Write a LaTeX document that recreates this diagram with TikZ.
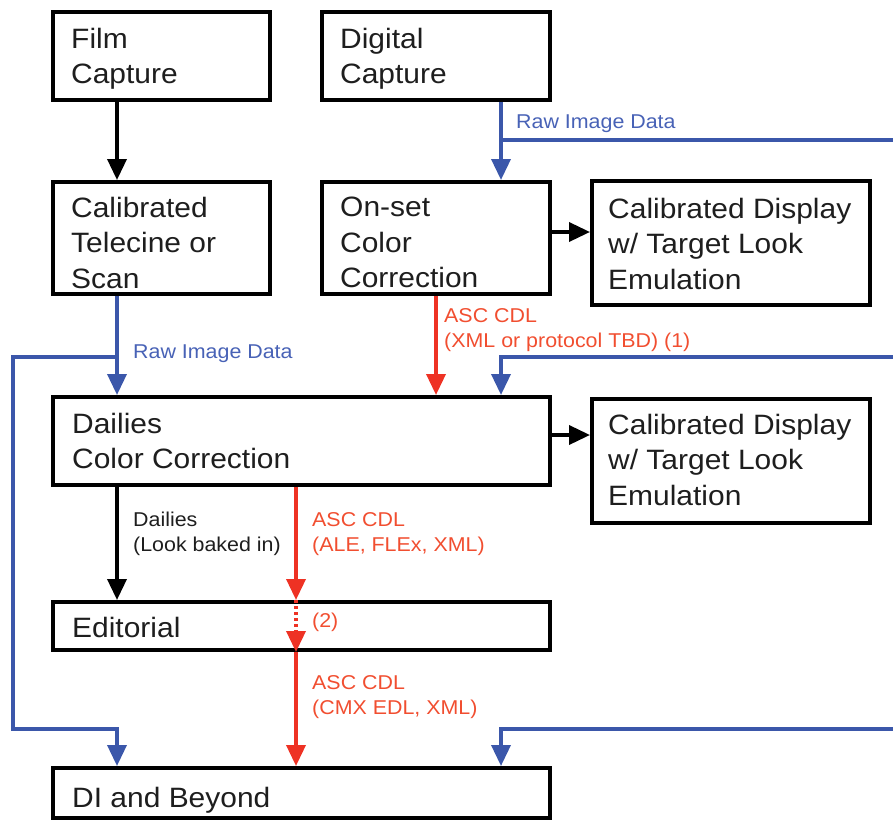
\documentclass[tikz,border=0pt]{standalone}
\usepackage{fontspec}
\setmainfont{Liberation Sans}[FakeStretch=1.07]
\usetikzlibrary{arrows.meta}
\definecolor{rawblue}{RGB}{59,87,170}
\definecolor{cdlred}{RGB}{238,50,36}
\definecolor{rawtxt}{RGB}{72,98,182}
\definecolor{cdltxt}{RGB}{241,78,48}
\definecolor{ink}{RGB}{30,30,30}

\begin{document}
\begin{tikzpicture}[x=1pt,y=-1pt,
	stage/.style={draw=black,line width=4.2pt,inner sep=0pt},
	stagetext/.style={anchor=north west,inner sep=0pt,align=left,text=ink,font=\fontsize{28}{35.5}\selectfont},
	note/.style={anchor=north west,inner sep=0pt,align=left,font=\fontsize{20}{25}\selectfont},
	flow/.style={line width=3.6pt,-{Triangle[width=19pt,length=21pt]}},
	blackflow/.style={flow,black},
	rawflow/.style={flow,rawblue},
	cdlflow/.style={flow,cdlred}]
		\useasboundingbox (0,0) rectangle (893,822);

		%Columnas y filas
		\coordinate (col-a) at (117,0);
		\coordinate (col-b) at (296,0);
		\coordinate (col-c) at (436,0);
		\coordinate (col-d) at (501,0);
		\coordinate (row-a) at (0,232);
		\coordinate (row-b) at (0,435);
		\coordinate (edge-top) at (893,140);
		\coordinate (edge-mid) at (893,357);
		\coordinate (edge-bot) at (893,729);
		\coordinate (loop-top) at (13,357);
		\coordinate (loop-bot) at (13,729);

		%Cajas
		\node[stage,minimum width=216.8,minimum height=87.8] (film) at (161.5,56) {};
		\node[stage,minimum width=227.8,minimum height=87.8] (digital) at (436,56) {};
		\node[stage,minimum width=216.8,minimum height=111.8] (telecine) at (161.5,238) {};
		\node[stage,minimum width=227.8,minimum height=111.8] (onset) at (436,238) {};
		\node[stage,minimum width=277.8,minimum height=123.8] (display-a) at (731,243) {};
		\node[stage,minimum width=496.8,minimum height=87.8] (dailies) at (301.5,441) {};
		\node[stage,minimum width=277.8,minimum height=123.8] (display-b) at (731,461) {};
		\node[stage,minimum width=496.8,minimum height=47.8] (editorial) at (301.5,626) {};
		\node[stage,minimum width=496.8,minimum height=49.8] (di) at (301.5,793) {};

		%Textos de las cajas
		\node[stagetext] (film-t) at (71,28) {Film\\Capture};
		\node[stagetext] (digital-t) at (340,28) {Digital\\Capture};
		\node[stagetext] (telecine-t) at (71,197) {Calibrated\\Telecine or\\Scan};
		\node[stagetext] (onset-t) at (340,197) {On-set\\Color\\Correction};
		\node[stagetext] (display-a-t) at (608,198) {Calibrated Display\\w/ Target Look\\Emulation};
		\node[stagetext] (dailies-t) at (72,413) {Dailies\\Color Correction};
		\node[stagetext] (display-b-t) at (608,414) {Calibrated Display\\w/ Target Look\\Emulation};
		\node[stagetext] (editorial-t) at (72,617) {Editorial};
		\node[stagetext] (di-t) at (72,787) {DI and Beyond};

		%Flechas negras
		\draw[blackflow] (film.south -| col-a) -- (telecine.north -| col-a);
		\draw[blackflow] (onset.east |- row-a) -- (display-a.west |- row-a);
		\draw[blackflow] (dailies.east |- row-b) -- (display-b.west |- row-b);
		\draw[blackflow] (dailies.south -| col-a) -- (editorial.north -| col-a);

		%Raw image data
		\draw[rawflow] (digital.south -| col-d) -- (onset.north -| col-d);
		\draw[rawflow,-] (edge-top) -- (edge-top -| col-d);
		\draw[rawflow] (edge-mid) -| (dailies.north -| col-d);
		\draw[rawflow] (edge-bot) -| (di.north -| col-d);
		\draw[rawflow] (telecine.south -| col-a) -- (dailies.north -| col-a);
		\draw[rawflow] (loop-top -| col-a) -- (loop-top) -- (loop-bot) -| (di.north -| col-a);

		%ASC CDL
		\draw[cdlflow] (onset.south -| col-c) -- (dailies.north -| col-c);
		\draw[cdlflow] (dailies.south -| col-b) -- (editorial.north -| col-b);
		\draw[cdlflow,dash pattern=on 3pt off 3pt] (editorial.north -| col-b) -- (editorial.south -| col-b);
		\draw[cdlflow] (editorial.south -| col-b) -- (di.north -| col-b);

		%Etiquetas
		\node[note,text=rawtxt] (raw-a) at (516,115) {Raw Image Data};
		\node[note,text=rawtxt] (raw-b) at (133,345) {Raw Image Data};
		\node[note,text=cdltxt] (cdl-a) at (444,308) {ASC CDL\\(XML or protocol TBD) (1)};
		\node[note,text=ink] (baked) at (133,512) {Dailies\\(Look baked in)};
		\node[note,text=cdltxt] (cdl-b) at (312,512) {ASC CDL\\(ALE, FLEx, XML)};
		\node[note,text=cdltxt] (cdl-n) at (312,613) {(2)};
		\node[note,text=cdltxt] (cdl-c) at (312,675) {ASC CDL\\(CMX EDL, XML)};

	\end{tikzpicture}
\end{document}
